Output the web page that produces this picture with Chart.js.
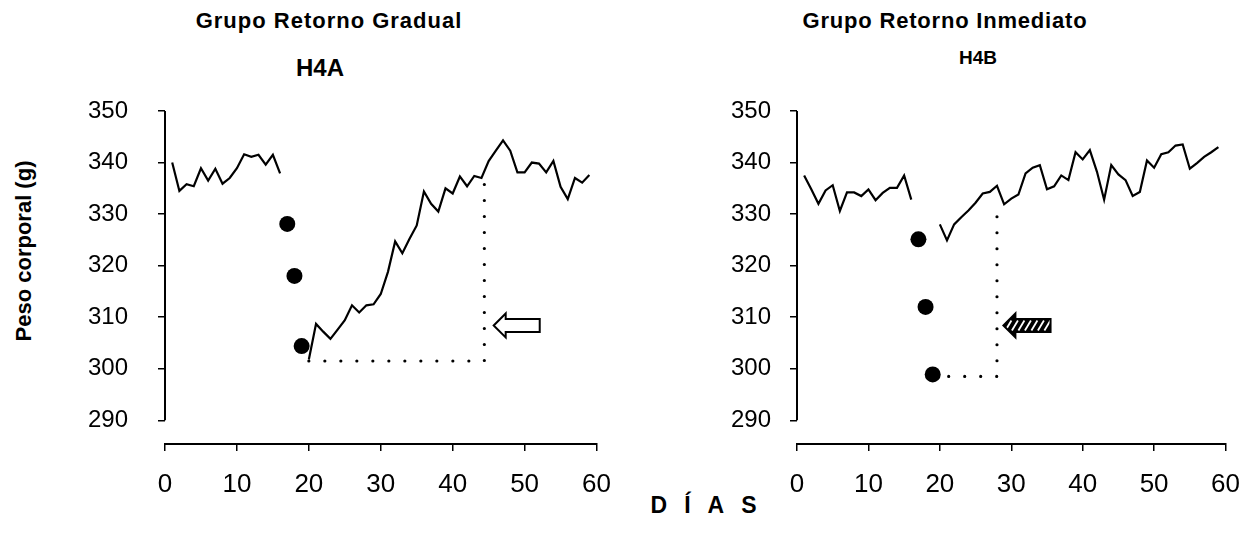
<!DOCTYPE html>
<html>
<head>
<meta charset="utf-8">
<script src="https://cdn.jsdelivr.net/npm/chart.js@4.4.1/dist/chart.umd.min.js"></script>
<style>
    body { margin: 0; background: #fff; }
    #wrap { position: relative; width: 1258px; height: 539px; background: #fff; overflow: hidden; }
    .lbl {
        position: absolute;
        transform: translate(-50%, -50%);
        font-family: "Liberation Sans", Arial, sans-serif;
        font-weight: bold;
        line-height: 1;
        white-space: nowrap;
        color: #000;
    }
    canvas { position: absolute; top: 0; }
</style>
</head>
<body>
<div id="wrap">
    <div class="lbl" style="left:329px;top:21px;font-size:22px;letter-spacing:1px">Grupo Retorno Gradual</div>
    <div class="lbl" style="left:320px;top:68px;font-size:24px">H4A</div>
    <div class="lbl" style="left:945px;top:21px;font-size:22px;letter-spacing:0.8px">Grupo Retorno Inmediato</div>
    <div class="lbl" style="left:978px;top:57px;font-size:19px">H4B</div>
    <div class="lbl" style="left:24px;top:251px;font-size:22px;transform:translate(-50%,-50%) rotate(-90deg)">Peso corporal (g)</div>
    <div class="lbl" style="left:712px;top:505px;font-size:23px;letter-spacing:17px">DÍAS</div>
    <canvas id="chartA" width="629" height="539" style="left:0"></canvas>
    <canvas id="chartB" width="629" height="539" style="left:629px"></canvas>
</div>

<script>
// =============================
// DATA
// =============================
const dias = [
    1, 2, 3, 4, 5, 6, 7, 8, 9, 10, 11, 12, 13, 14, 15, 16, 17, 18, 19, 20,
    21, 22, 23, 24, 25, 26, 27, 28, 29, 30, 31, 32, 33, 34, 35, 36, 37, 38, 39, 40,
    41, 42, 43, 44, 45, 46, 47, 48, 49, 50, 51, 52, 53, 54, 55, 56, 57, 58, 59
];

// H4A - retorno gradual (g)
const pesoA = [
    340.0, 334.5, 335.8, 335.4, 338.9, 336.5, 338.8, 335.9, 337.0, 338.9,
    341.6, 341.1, 341.5, 339.6, 341.5, 337.9, null, null, null, 301.8,
    308.7, 307.2, 305.8, 307.6, 309.4, 312.3, 310.9, 312.3, 312.5, 314.5,
    318.8, 324.7, 322.4, 325.2, 327.8, 334.4, 332.0, 330.5, 335.0, 334.0,
    337.3, 335.4, 337.4, 337.0, 340.3, 342.3, 344.3, 342.3, 338.1, 338.1,
    340.0, 339.8, 338.1, 340.3, 335.3, 332.9, 337.0, 336.1, 337.6
];

// H4B - retorno inmediato (g)
const pesoB = [
    337.5, 334.8, 332.0, 334.6, 335.6, 330.6, 334.2, 334.2, 333.5, 334.8,
    332.7, 334.1, 335.1, 335.1, 337.5, 332.8, null, null, null, 328.0,
    324.9, 328.0, 329.4, 330.7, 332.2, 334.0, 334.3, 335.5, 331.9, 333.0,
    333.8, 337.9, 339.0, 339.5, 334.8, 335.4, 337.5, 336.6, 342.0, 340.6,
    342.4, 338.2, 332.8, 339.5, 337.7, 336.6, 333.5, 334.3, 340.4, 339.0,
    341.6, 342.0, 343.3, 343.5, 338.8, 339.9, 341.1, 342.0, 343.0
];

// restriction days (dots)
const diasPunto = [17, 18, 19];
const puntoA = [328.1, 318.0, 304.4];
const puntoB = [325.1, 312.0, 298.9];

// dotted recovery guides
const guiaDiasA = [20, 44.4, 44.4];
const guiaPesoA = [301.5, 301.5, 337.0];
const guiaDiasB = [19, 28, 28];
const guiaPesoB = [298.5, 298.5, 332.0];

// arrows: [tip day, tail day, weight]
const flechaA = [45.7, 52.1, 308.4];
const flechaB = [28.9, 35.5, 308.4];

const yTicks = [290, 300, 310, 320, 330, 340, 350];
const xTicks = [0, 10, 20, 30, 40, 50, 60];

const FONT = '"Liberation Sans", Arial, sans-serif';
Chart.defaults.font.family = FONT;
Chart.defaults.color = "#000";

const pts = (xs, ys) => xs.map((x, i) => ({ x, y: ys[i] }));

// =============================
// PLUGINS
// =============================
// y axis only spans the tick range, the x axis sits below it
const axisLine = {
    id: "axisLine",
    afterDraw(chart) {
        const { ctx } = chart;
        const y = chart.scales.y;
        ctx.save();
        ctx.strokeStyle = "#000";
        ctx.lineWidth = 2;
        ctx.beginPath();
        ctx.moveTo(y.right, y.getPixelForValue(yTicks[yTicks.length - 1]));
        ctx.lineTo(y.right, y.getPixelForValue(yTicks[0]));
        ctx.stroke();
        ctx.restore();
    }
};

const arrow = {
    id: "arrow",
    afterDatasetsDraw(chart, args, opts) {
        if (!opts.at) return;
        const { ctx } = chart;
        const { x, y } = chart.scales;
        const tx = x.getPixelForValue(opts.at[0]);
        const ex = x.getPixelForValue(opts.at[1]);
        const cy = y.getPixelForValue(opts.at[2]);
        const hl = 12, hh = 12, sh = 6.5;

        const shape = new Path2D();
        shape.moveTo(tx, cy);
        shape.lineTo(tx + hl, cy - hh);
        shape.lineTo(tx + hl, cy - sh);
        shape.lineTo(ex, cy - sh);
        shape.lineTo(ex, cy + sh);
        shape.lineTo(tx + hl, cy + sh);
        shape.lineTo(tx + hl, cy + hh);
        shape.closePath();

        ctx.save();
        if (opts.hatched) {
            ctx.fillStyle = "#000";
            ctx.fill(shape);
            ctx.save();
            ctx.clip(shape);
            ctx.strokeStyle = "#fff";
            ctx.lineWidth = 1.8;
            for (let sx = tx + 5; sx < ex - 2; sx += 6.5) {
                ctx.beginPath();
                ctx.moveTo(sx - 3, cy + 5);
                ctx.lineTo(sx + 3, cy - 5);
                ctx.stroke();
            }
            ctx.restore();
        } else {
            ctx.fillStyle = "#fff";
            ctx.fill(shape);
        }
        ctx.strokeStyle = "#000";
        ctx.lineWidth = 2;
        ctx.lineJoin = "miter";
        ctx.stroke(shape);
        ctx.restore();
    }
};

// =============================
// CHART
// =============================
function makeChart(id, peso, punto, guiaX, guiaY, flecha, hatched, yWidth, yPad, rightPad) {
    const ctx = document.getElementById(id).getContext("2d");

    return new Chart(ctx, {
        type: "line",
        data: {
            datasets: [
                {
                    data: pts(dias, peso),
                    borderColor: "#000",
                    borderWidth: 2.2,
                    pointRadius: 0,
                    tension: 0,
                    spanGaps: false
                },
                {
                    data: pts(guiaX, guiaY),
                    borderColor: "#000",
                    borderWidth: 3.2,
                    borderDash: [0, 16],
                    borderCapStyle: "round",
                    pointRadius: 0,
                    tension: 0
                },
                {
                    data: pts(diasPunto, punto),
                    showLine: false,
                    pointRadius: 8,
                    pointBackgroundColor: "#000",
                    pointBorderColor: "#000",
                    pointBorderWidth: 0
                }
            ]
        },
        options: {
            responsive: false,
            animation: false,
            events: [],
            layout: { padding: { top: 111, right: rightPad, bottom: 35, left: 0 } },
            plugins: {
                legend: { display: false },
                tooltip: { enabled: false },
                arrow: { at: flecha, hatched }
            },
            scales: {
                x: {
                    type: "linear",
                    min: 0,
                    max: 60,
                    afterBuildTicks: s => { s.ticks = xTicks.map(v => ({ value: v })); },
                    afterFit: s => { s.height = 60; },
                    ticks: { padding: 18, maxRotation: 0, font: { size: 26 } },
                    grid: { drawOnChartArea: false, tickLength: 7, color: "#000", lineWidth: 1.5 },
                    border: { color: "#000", width: 2 }
                },
                y: {
                    min: 285.4,
                    max: 350,
                    afterBuildTicks: s => { s.ticks = yTicks.map(v => ({ value: v })); },
                    afterFit: s => { s.width = yWidth; },
                    ticks: { padding: yPad, font: { size: 24 } },
                    grid: { drawOnChartArea: false, tickLength: 7, color: "#000", lineWidth: 1.5 },
                    border: { display: false }
                }
            }
        },
        plugins: [axisLine, arrow]
    });
}

window.onload = () => {
    makeChart("chartA", pesoA, puntoA, guiaDiasA, guiaPesoA, flechaA, false, 165, 30, 27);
    makeChart("chartB", pesoB, puntoB, guiaDiasB, guiaPesoB, flechaB, true, 168, 19, 23);
};
</script>
</body>
</html>
